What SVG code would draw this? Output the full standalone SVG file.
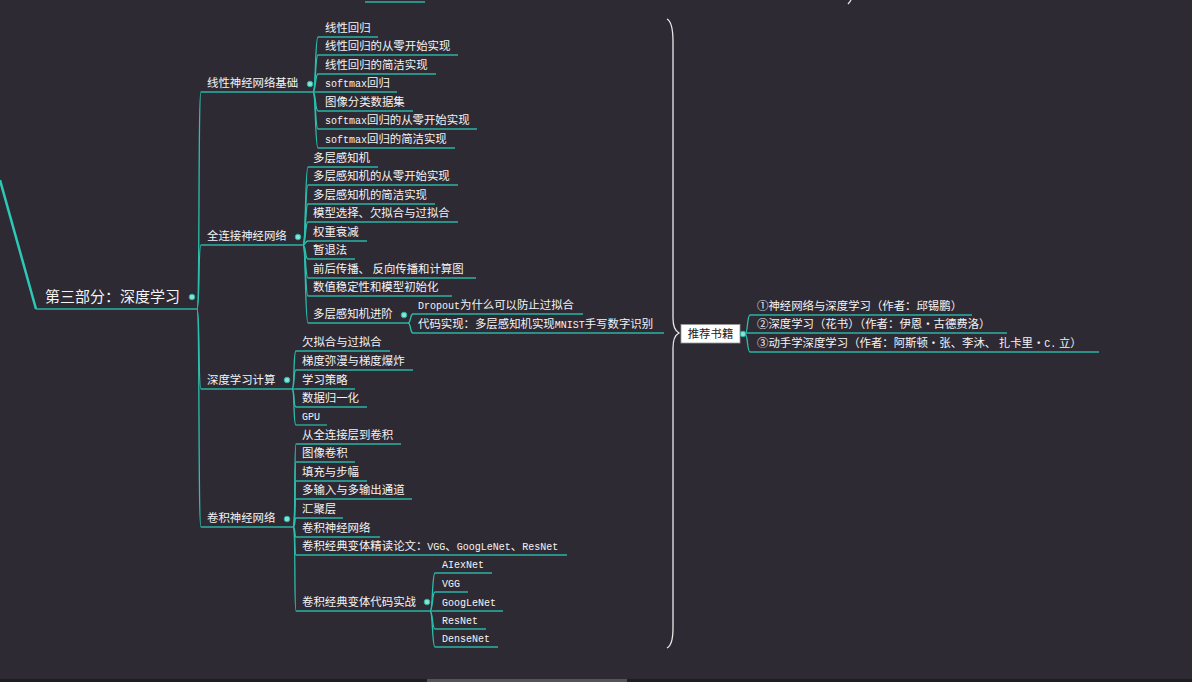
<svg xmlns="http://www.w3.org/2000/svg" width="1192" height="682" viewBox="0 0 1192 682">
<style>
.t{font-family:"Noto Sans CJK SC","Liberation Sans",sans-serif;font-size:11.4px;fill:#f4f4f4}
.m{font-family:"Liberation Mono","DejaVu Sans Mono",monospace;font-size:10px}
.root{font-size:15px}
.u{stroke:#2bb3a3;stroke-width:1.3;fill:none}
.c{stroke:#2bbfad;stroke-width:1.3;fill:none}
.dot{fill:#86e2d8;stroke:#2bb3a3;stroke-width:1}
.brace{stroke:#e8e8e8;stroke-width:1.3;fill:none}
</style>
<rect x="0" y="0" width="1192" height="682" fill="#2e2a34"/>
<rect x="0" y="679" width="1192" height="3" fill="#1f1d22"/>
<rect x="427" y="679" width="200" height="3" fill="#555258"/>
<line x1="365" y1="2" x2="425" y2="2" class="u"/>
<path d="M851,0 Q850,2 848,4" class="brace" stroke-width="1"/>

<g id="connectors">
  <path d="M0,180 L36,309" stroke="#2cc9b5" stroke-width="2.5" fill="none"/>
  <path d="M197,309 C200,309 198,92 201,92" class="c"/>
  <path d="M197,309 C200,309 198,245 201,245" class="c"/>
  <path d="M197,309 C200,309 198,389 201,389" class="c"/>
  <path d="M197,309 C200,309 198,527 201,527" class="c"/>
  <path d="M313,92 C316,92 315,37 318,37" class="c"/>
  <path d="M313,92 C316,92 315,55 318,55" class="c"/>
  <path d="M313,92 C316,92 315,74 318,74" class="c"/>
  <path d="M313,92 L318,92" class="c"/>
  <path d="M313,92 C316,92 315,111 318,111" class="c"/>
  <path d="M313,92 C316,92 315,129 318,129" class="c"/>
  <path d="M313,92 C316,92 315,148 318,148" class="c"/>
  <path d="M303,245 C306,245 305,167 308,167" class="c"/>
  <path d="M303,245 C306,245 305,185 308,185" class="c"/>
  <path d="M303,245 C306,245 305,204 308,204" class="c"/>
  <path d="M303,245 C306,245 305,222 308,222" class="c"/>
  <path d="M303,245 C306,245 305,241 308,241" class="c"/>
  <path d="M303,245 C306,245 305,259 308,259" class="c"/>
  <path d="M303,245 C306,245 305,278 308,278" class="c"/>
  <path d="M303,245 C306,245 305,296 308,296" class="c"/>
  <path d="M303,245 C306,245 305,323 308,323" class="c"/>
  <path d="M408,323 C411,323 410,314 413,314" class="c"/>
  <path d="M408,323 C411,323 410,333 413,333" class="c"/>
  <path d="M292,389 C295,389 293,351 296,351" class="c"/>
  <path d="M292,389 C295,389 293,370 296,370" class="c"/>
  <path d="M292,389 L296,389" class="c"/>
  <path d="M292,389 C295,389 293,407 296,407" class="c"/>
  <path d="M292,389 C295,389 293,425 296,425" class="c"/>
  <path d="M293,527 C296,527 294,444 296,444" class="c"/>
  <path d="M293,527 C296,527 294,462 296,462" class="c"/>
  <path d="M293,527 C296,527 294,481 296,481" class="c"/>
  <path d="M293,527 C296,527 294,499 296,499" class="c"/>
  <path d="M293,527 C296,527 294,518 296,518" class="c"/>
  <path d="M293,527 C296,527 294,537 296,537" class="c"/>
  <path d="M293,527 C296,527 294,555 296,555" class="c"/>
  <path d="M293,527 C296,527 294,611 296,611" class="c"/>
  <path d="M430,611 C433,611 432,573 435,573" class="c"/>
  <path d="M430,611 C433,611 432,592 435,592" class="c"/>
  <path d="M430,611 L435,611" class="c"/>
  <path d="M430,611 C433,611 432,629 435,629" class="c"/>
  <path d="M430,611 C433,611 432,647 435,647" class="c"/>
  <path d="M745,334 C748,334 747,315 750,315" class="c"/>
  <path d="M745,334 C748,334 747,352 750,352" class="c"/>
  <path d="M667,19 Q673,22 673,42 L673,318 Q673,330 679,333 Q673,336 673,348 L673,628 Q673,645 667,648" class="brace"/>
</g>

<g id="root">
  <line x1="36" y1="309" x2="197" y2="309" class="u"/>
  <text x="45" y="302" class="t root">第三部分：深度学习</text>
  <circle cx="192" cy="297" r="2.8" class="dot"/>
</g>

<g id="n-linear">
  <line x1="201" y1="92" x2="313" y2="92" class="u"/>
  <text x="207" y="87" class="t">线性神经网络基础</text>
  <circle cx="310" cy="84" r="2.8" class="dot"/>
</g>
<g id="n-linear-1"><line x1="318" y1="37" x2="378" y2="37" class="u"/><text x="325" y="32" class="t">线性回归</text></g>
<g id="n-linear-2"><line x1="318" y1="55" x2="458" y2="55" class="u"/><text x="325" y="50" class="t">线性回归的从零开始实现</text></g>
<g id="n-linear-3"><line x1="318" y1="74" x2="436" y2="74" class="u"/><text x="325" y="69" class="t">线性回归的简洁实现</text></g>
<g id="n-linear-4"><line x1="318" y1="92" x2="397" y2="92" class="u"/><text x="325" y="87" class="t"><tspan class="m">softmax</tspan>回归</text></g>
<g id="n-linear-5"><line x1="318" y1="111" x2="413" y2="111" class="u"/><text x="325" y="106" class="t">图像分类数据集</text></g>
<g id="n-linear-6"><line x1="318" y1="129" x2="477" y2="129" class="u"/><text x="325" y="124" class="t"><tspan class="m">softmax</tspan>回归的从零开始实现</text></g>
<g id="n-linear-7"><line x1="318" y1="148" x2="455" y2="148" class="u"/><text x="325" y="143" class="t"><tspan class="m">softmax</tspan>回归的简洁实现</text></g>

<g id="n-mlp">
  <line x1="201" y1="245" x2="303" y2="245" class="u"/>
  <text x="207" y="240" class="t">全连接神经网络</text>
  <circle cx="298" cy="237" r="2.8" class="dot"/>
</g>
<g id="n-mlp-1"><line x1="308" y1="167" x2="378" y2="167" class="u"/><text x="313" y="162" class="t">多层感知机</text></g>
<g id="n-mlp-2"><line x1="308" y1="185" x2="458" y2="185" class="u"/><text x="313" y="180" class="t">多层感知机的从零开始实现</text></g>
<g id="n-mlp-3"><line x1="308" y1="204" x2="435" y2="204" class="u"/><text x="313" y="199" class="t">多层感知机的简洁实现</text></g>
<g id="n-mlp-4"><line x1="308" y1="222" x2="458" y2="222" class="u"/><text x="313" y="217" class="t">模型选择、欠拟合与过拟合</text></g>
<g id="n-mlp-5"><line x1="308" y1="241" x2="367" y2="241" class="u"/><text x="313" y="236" class="t">权重衰减</text></g>
<g id="n-mlp-6"><line x1="308" y1="259" x2="355" y2="259" class="u"/><text x="313" y="254" class="t">暂退法</text></g>
<g id="n-mlp-7"><line x1="308" y1="278" x2="476" y2="278" class="u"/><text x="313" y="273" class="t">前后传播、 反向传播和计算图</text></g>
<g id="n-mlp-8"><line x1="308" y1="296" x2="452" y2="296" class="u"/><text x="313" y="291" class="t">数值稳定性和模型初始化</text></g>
<g id="n-mlp-9">
  <line x1="308" y1="323" x2="408" y2="323" class="u"/>
  <text x="313" y="318" class="t">多层感知机进阶</text>
  <circle cx="404" cy="315" r="2.8" class="dot"/>
</g>
<g id="n-mlp-9-1"><line x1="413" y1="314" x2="583" y2="314" class="u"/><text x="418" y="309" class="t"><tspan class="m">Dropout</tspan>为什么可以防止过拟合</text></g>
<g id="n-mlp-9-2"><line x1="413" y1="333" x2="664" y2="333" class="u"/><text x="418" y="328" class="t">代码实现：多层感知机实现<tspan class="m">MNIST</tspan>手写数字识别</text></g>

<g id="n-comp">
  <line x1="201" y1="389" x2="292" y2="389" class="u"/>
  <text x="207" y="384" class="t">深度学习计算</text>
  <circle cx="287" cy="380" r="2.8" class="dot"/>
</g>
<g id="n-comp-1"><line x1="296" y1="351" x2="390" y2="351" class="u"/><text x="302" y="346" class="t">欠拟合与过拟合</text></g>
<g id="n-comp-2"><line x1="296" y1="370" x2="413" y2="370" class="u"/><text x="302" y="365" class="t">梯度弥漫与梯度爆炸</text></g>
<g id="n-comp-3"><line x1="296" y1="389" x2="355" y2="389" class="u"/><text x="302" y="384" class="t">学习策略</text></g>
<g id="n-comp-4"><line x1="296" y1="407" x2="367" y2="407" class="u"/><text x="302" y="402" class="t">数据归一化</text></g>
<g id="n-comp-5"><line x1="296" y1="425" x2="327" y2="425" class="u"/><text x="302" y="420" class="t"><tspan class="m">GPU</tspan></text></g>

<g id="n-cnn">
  <line x1="201" y1="527" x2="293" y2="527" class="u"/>
  <text x="207" y="522" class="t">卷积神经网络</text>
  <circle cx="287" cy="519" r="2.8" class="dot"/>
</g>
<g id="n-cnn-1"><line x1="296" y1="444" x2="401" y2="444" class="u"/><text x="302" y="439" class="t">从全连接层到卷积</text></g>
<g id="n-cnn-2"><line x1="296" y1="462" x2="355" y2="462" class="u"/><text x="302" y="457" class="t">图像卷积</text></g>
<g id="n-cnn-3"><line x1="296" y1="481" x2="367" y2="481" class="u"/><text x="302" y="476" class="t">填充与步幅</text></g>
<g id="n-cnn-4"><line x1="296" y1="499" x2="412" y2="499" class="u"/><text x="302" y="494" class="t">多输入与多输出通道</text></g>
<g id="n-cnn-5"><line x1="296" y1="518" x2="343" y2="518" class="u"/><text x="302" y="513" class="t">汇聚层</text></g>
<g id="n-cnn-6"><line x1="296" y1="537" x2="380" y2="537" class="u"/><text x="302" y="532" class="t">卷积神经网络</text></g>
<g id="n-cnn-7"><line x1="296" y1="555" x2="567" y2="555" class="u"/><text x="302" y="550" class="t">卷积经典变体精读论文：<tspan class="m">VGG</tspan>、<tspan class="m">GoogLeNet</tspan>、<tspan class="m">ResNet</tspan></text></g>
<g id="n-cnn-8">
  <line x1="296" y1="611" x2="430" y2="611" class="u"/>
  <text x="302" y="606" class="t">卷积经典变体代码实战</text>
  <circle cx="427" cy="602" r="2.8" class="dot"/>
</g>
<g id="n-cnn-8-1"><line x1="435" y1="573" x2="492" y2="573" class="u"/><text x="442" y="568" class="t"><tspan class="m">AIexNet</tspan></text></g>
<g id="n-cnn-8-2"><line x1="435" y1="592" x2="468" y2="592" class="u"/><text x="442" y="587" class="t"><tspan class="m">VGG</tspan></text></g>
<g id="n-cnn-8-3"><line x1="435" y1="611" x2="503" y2="611" class="u"/><text x="442" y="606" class="t"><tspan class="m">GoogLeNet</tspan></text></g>
<g id="n-cnn-8-4"><line x1="435" y1="629" x2="486" y2="629" class="u"/><text x="442" y="624" class="t"><tspan class="m">ResNet</tspan></text></g>
<g id="n-cnn-8-5"><line x1="435" y1="647" x2="498" y2="647" class="u"/><text x="442" y="642" class="t"><tspan class="m">DenseNet</tspan></text></g>

<g id="n-books">
  <rect x="681" y="324.5" width="59" height="18.5" fill="#ffffff" stroke="#9a9a9a" stroke-width="0.8"/>
  <text x="710.5" y="338" class="t" style="fill:#222" text-anchor="middle">推荐书籍</text>
  <circle cx="743" cy="334" r="2.8" class="dot"/>
</g>
<g id="n-books-1"><line x1="750" y1="315" x2="972" y2="315" class="u"/><text x="757" y="310" class="t">①神经网络与深度学习（作者：邱锡鹏）</text></g>
<g id="n-books-2"><line x1="745" y1="333" x2="1007" y2="333" class="u"/><text x="757" y="328" class="t">②深度学习（花书）（作者：伊恩·古德费洛）</text></g>
<g id="n-books-3"><line x1="750" y1="352" x2="1099" y2="352" class="u"/><text x="757" y="347" class="t">③动手学深度学习（作者：阿斯顿·张、李沐、 扎卡里·<tspan class="m">C.</tspan> 立）</text></g>
</svg>
